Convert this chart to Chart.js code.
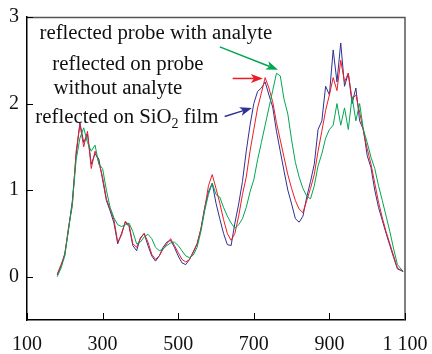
<!DOCTYPE html>
<html>
<head>
<meta charset="utf-8">
<script src="https://cdn.jsdelivr.net/npm/chart.js@4.4.1/dist/chart.umd.min.js"></script>
<style>
  html, body { margin: 0; background: #fff; }
</style>
</head>
<body>
<canvas id="spectra" width="432" height="354"></canvas>
<script>
// wavelength grid (nm)
const wavelengths = [
  180, 190, 200, 210, 220, 230, 240, 250, 260, 270,
  280, 290, 300, 310, 320, 330, 340, 350, 360, 370,
  380, 390, 400, 410, 420, 430, 440, 450, 460, 470,
  480, 490, 500, 510, 520, 530, 540, 550, 560, 570,
  580, 590, 600, 610, 620, 630, 640, 650, 660, 670,
  680, 690, 700, 710, 720, 730, 740, 750, 760, 770,
  780, 790, 800, 810, 820, 830, 840, 850, 860, 870,
  880, 890, 900, 910, 920, 930, 940, 950, 960, 970,
  980, 990, 1000, 1010, 1020, 1030, 1040, 1050, 1060, 1070,
  1080, 1095
];

// reflected on SiO2 film (blue)
const sio2Film = [
  0.02, 0.12, 0.27, 0.55, 0.88, 1.40, 1.78, 1.55, 1.65, 1.30,
  1.42, 1.36, 1.12, 0.88, 0.76, 0.62, 0.38, 0.50, 0.63, 0.58,
  0.36, 0.30, 0.45, 0.50, 0.36, 0.24, 0.18, 0.24, 0.34, 0.40,
  0.42, 0.34, 0.24, 0.16, 0.14, 0.20, 0.29, 0.38, 0.55, 0.80,
  0.98, 1.08, 0.85, 0.67, 0.50, 0.37, 0.36, 0.62, 0.84, 1.10,
  1.45, 1.75, 2.00, 2.14, 2.18, 2.25, 2.10, 1.96, 1.68, 1.45,
  1.22, 1.00, 0.84, 0.67, 0.63, 0.70, 0.92, 1.10, 1.30, 1.70,
  1.80, 2.20, 2.10, 2.62, 2.25, 2.70, 2.20, 2.35, 2.00, 2.18,
  1.80, 1.70, 1.40, 1.26, 1.00, 0.80, 0.65, 0.50, 0.36, 0.22,
  0.09, 0.06
];

// reflected on probe without analyte (red)
const probeBare = [
  0.03, 0.14, 0.25, 0.58, 0.82, 1.45, 1.76, 1.50, 1.68, 1.25,
  1.45, 1.32, 1.15, 0.90, 0.78, 0.66, 0.40, 0.48, 0.64, 0.60,
  0.38, 0.34, 0.44, 0.50, 0.40, 0.26, 0.20, 0.24, 0.32, 0.38,
  0.44, 0.36, 0.28, 0.20, 0.17, 0.20, 0.28, 0.38, 0.55, 0.78,
  1.05, 1.18, 1.02, 0.85, 0.66, 0.50, 0.42, 0.50, 0.70, 0.95,
  1.15, 1.45, 1.70, 1.95, 2.12, 2.30, 2.18, 2.02, 1.78, 1.58,
  1.38, 1.18, 1.02, 0.88, 0.78, 0.74, 0.88, 1.02, 1.18, 1.45,
  1.68, 1.92, 2.10, 2.30, 2.15, 2.50, 2.25, 2.35, 2.05, 2.10,
  1.90, 1.68, 1.48, 1.30, 1.08, 0.86, 0.68, 0.52, 0.38, 0.24,
  0.10, 0.06
];

// reflected probe with analyte (green)
const probeAnalyte = [
  0.00, 0.10, 0.24, 0.55, 0.85, 1.35, 1.60, 1.72, 1.55, 1.45,
  1.52, 1.30, 1.25, 1.00, 0.80, 0.68, 0.60, 0.58, 0.60, 0.62,
  0.52, 0.38, 0.40, 0.46, 0.49, 0.44, 0.34, 0.30, 0.32, 0.36,
  0.39, 0.40, 0.36, 0.30, 0.24, 0.22, 0.25, 0.34, 0.52, 0.76,
  0.95, 1.08, 0.95, 0.92, 0.80, 0.70, 0.62, 0.56, 0.60, 0.67,
  0.80, 0.98, 1.12, 1.35, 1.55, 1.75, 1.95, 2.15, 2.35, 2.32,
  2.05, 1.88, 1.58, 1.32, 1.15, 1.02, 0.93, 0.90, 1.05, 1.28,
  1.42, 1.60, 1.70, 1.75, 2.00, 1.75, 1.95, 1.70, 2.08, 1.80,
  2.00, 1.70, 1.55, 1.38, 1.25, 1.05, 0.88, 0.70, 0.52, 0.32,
  0.14, 0.06
];

const xTicks = [100, 300, 500, 700, 900, 1100];
const yTicks = [0, 1, 2, 3];

const BLUE = 'rgb(46,49,146)';
const RED = 'rgb(237,28,36)';
const GREEN = 'rgb(0,166,81)';
const SERIF = '"Liberation Serif", "Times New Roman", serif';

function toPoints(ys) {
  return wavelengths.map((x, i) => ({ x: x, y: ys[i] }));
}

// labels and arrows, placed in data coordinates
const notes = [
  { text: 'reflected probe with analyte', x: 133, y: 2.747 },
  { text: 'reflected on probe', x: 167, y: 2.39 },
  { text: 'without analyte', x: 170, y: 2.115 },
  { text: 'reflected on SiO', sub: '2', after: ' film', x: 122, y: 1.78 }
];
const arrows = [
  { color: GREEN, from: [610, 2.655], to: [764, 2.39] },
  { color: RED, from: [644, 2.29], to: [724, 2.29] },
  { color: BLUE, from: [623, 1.85], to: [695, 1.95] }
];

const decorations = {
  id: 'decorations',
  afterDraw(chart) {
    const { ctx, chartArea: a, scales: { x, y } } = chart;
    ctx.save();

    // top and right frame
    ctx.strokeStyle = '#555';
    ctx.lineWidth = 1.5;
    ctx.beginPath();
    ctx.moveTo(a.left, a.top + 0.5);
    ctx.lineTo(a.right, a.top + 0.5);
    ctx.lineTo(a.right, a.bottom);
    ctx.stroke();

    // inward tick marks
    ctx.strokeStyle = '#000';
    ctx.lineWidth = 1;
    ctx.beginPath();
    xTicks.forEach(v => {
      const px = Math.round(x.getPixelForValue(v)) + 0.5;
      ctx.moveTo(px, a.bottom);
      ctx.lineTo(px, a.bottom - 7);
    });
    yTicks.forEach(v => {
      const py = Math.round(y.getPixelForValue(v)) + 0.5;
      ctx.moveTo(a.left, py);
      ctx.lineTo(a.left + 6, py);
    });
    ctx.stroke();

    // arrows
    arrows.forEach(ar => {
      const x0 = x.getPixelForValue(ar.from[0]), y0 = y.getPixelForValue(ar.from[1]);
      const x1 = x.getPixelForValue(ar.to[0]), y1 = y.getPixelForValue(ar.to[1]);
      const ang = Math.atan2(y1 - y0, x1 - x0);
      const len = 12, half = 4.5;
      const bx = x1 - len * Math.cos(ang), by = y1 - len * Math.sin(ang);
      ctx.strokeStyle = ar.color;
      ctx.fillStyle = ar.color;
      ctx.lineWidth = 1.5;
      ctx.beginPath();
      ctx.moveTo(x0, y0);
      ctx.lineTo(bx + 3 * Math.cos(ang), by + 3 * Math.sin(ang));
      ctx.stroke();
      ctx.beginPath();
      ctx.moveTo(x1, y1);
      ctx.lineTo(bx - half * Math.sin(ang), by + half * Math.cos(ang));
      ctx.lineTo(bx + 3 * Math.cos(ang), by + 3 * Math.sin(ang));
      ctx.lineTo(bx + half * Math.sin(ang), by - half * Math.cos(ang));
      ctx.closePath();
      ctx.fill();
    });

    // text labels
    ctx.fillStyle = '#111';
    ctx.textBaseline = 'alphabetic';
    ctx.textAlign = 'left';
    notes.forEach(n => {
      let px = x.getPixelForValue(n.x);
      const py = y.getPixelForValue(n.y);
      ctx.font = '20.8px ' + SERIF;
      ctx.fillText(n.text, px, py);
      if (n.sub) {
        px += ctx.measureText(n.text).width;
        ctx.font = '14px ' + SERIF;
        ctx.fillText(n.sub, px, py + 5);
        px += ctx.measureText(n.sub).width;
        ctx.font = '20.8px ' + SERIF;
        ctx.fillText(n.after, px, py);
      }
    });

    ctx.restore();
  }
};

new Chart(document.getElementById('spectra'), {
  type: 'line',
  data: {
    datasets: [
      { label: 'reflected probe with analyte', data: toPoints(probeAnalyte), borderColor: GREEN },
      { label: 'reflected on probe without analyte', data: toPoints(probeBare), borderColor: RED },
      { label: 'reflected on SiO2 film', data: toPoints(sio2Film), borderColor: BLUE }
    ]
  },
  options: {
    responsive: false,
    animation: false,
    layout: { padding: { top: 17, right: 27, left: 0, bottom: 0 } },
    plugins: {
      legend: { display: false },
      tooltip: { enabled: false }
    },
    elements: {
      point: { radius: 0 },
      line: { borderWidth: 1, tension: 0, fill: false }
    },
    scales: {
      x: {
        type: 'linear',
        min: 100,
        max: 1100,
        afterFit: s => { s.height = 34; s.paddingLeft = 0; s.paddingRight = 0; },
        afterBuildTicks: s => { s.ticks = xTicks.map(v => ({ value: v })); },
        grid: { display: false, drawTicks: false },
        border: { display: true, color: '#000', width: 1.5 },
        ticks: {
          padding: 13,
          color: '#111',
          maxRotation: 0,
          autoSkip: false,
          font: { family: SERIF, size: 20 },
          callback: v => (v === 1100 ? '1 100' : String(v))
        }
      },
      y: {
        min: -0.5,
        max: 3,
        afterFit: s => { s.width = 27; s.paddingTop = 0; s.paddingBottom = 0; },
        afterBuildTicks: s => { s.ticks = yTicks.map(v => ({ value: v })); },
        grid: { display: false, drawTicks: false },
        border: { display: true, color: '#000', width: 1.5 },
        ticks: {
          padding: 8,
          color: '#111',
          font: { family: SERIF, size: 20 }
        }
      }
    }
  },
  plugins: [decorations]
});
</script>
</body>
</html>
